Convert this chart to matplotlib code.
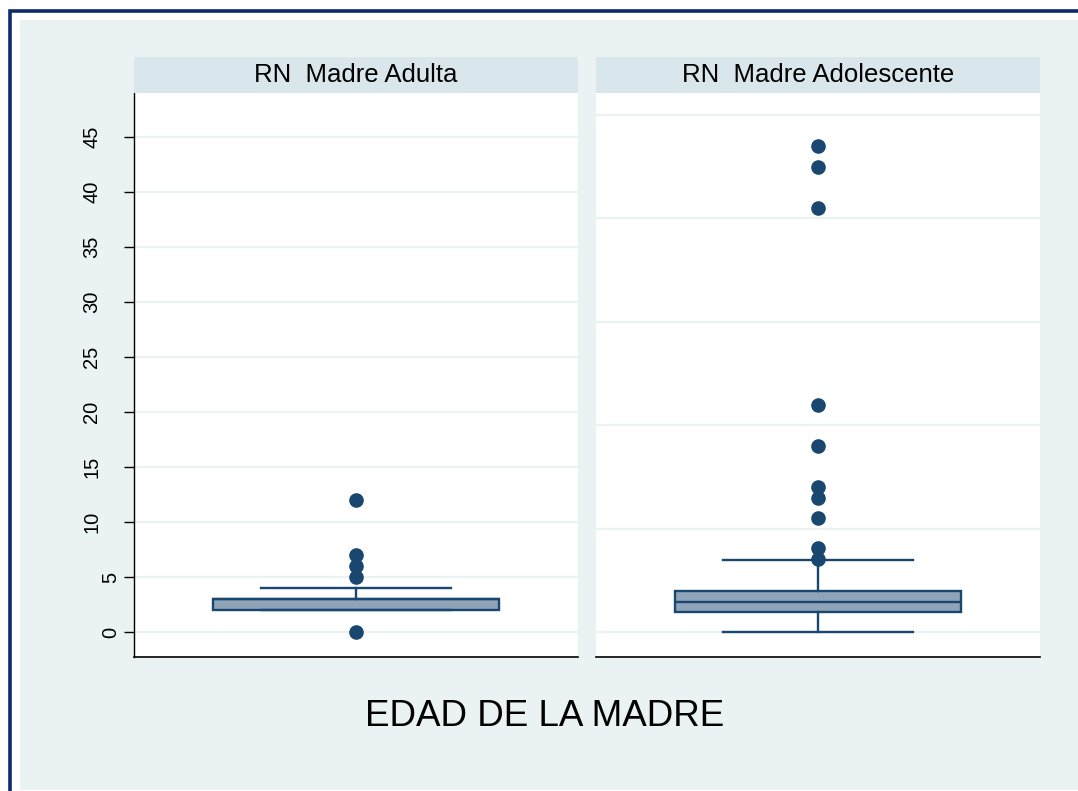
import matplotlib
matplotlib.use("Agg")
import matplotlib.pyplot as plt
from matplotlib.patches import Rectangle
from matplotlib.transforms import blended_transform_factory

plt.rcParams['font.family'] = ['Liberation Sans', 'DejaVu Sans']

# ---- data ----
panel_titles = ["RN  Madre Adulta", "RN  Madre Adolescente"]
xlabel_text = "EDAD DE LA MADRE"

adulta_q1, adulta_med, adulta_q3 = 2.0, 3.0, 3.0
adulta_whislo, adulta_whishi = 2.0, 4.0
adulta_outliers = [0, 5, 6, 7, 12]

adol_q1, adol_med, adol_q3 = 1.95, 2.93, 3.97
adol_whislo, adol_whishi = 0.0, 6.96
adol_outliers = [7.1, 8.1, 11.0, 13.0, 14.05, 18.0, 22.0, 41.0, 45.0, 47.0]

left_ticks = [0, 5, 10, 15, 20, 25, 30, 35, 40, 45]
right_grid = [0, 10, 20, 30, 40, 50]

# ---- styling ----
W, H = 1078, 791
NAVY = "#1a476f"
BOXFILL = "#8fa4b8"
BG = "#eaf2f3"
HEADER = "#d9e6eb"
GRID = "#eaf2f3"

fig = plt.figure(figsize=(W / 100, H / 100), dpi=100)
fig.patch.set_facecolor("white")

def px(x0, y0, x1, y1):
    return [x0 / W, 1 - y1 / H, (x1 - x0) / W, (y1 - y0) / H]

# outer border and background
fig.patches.append(Rectangle((10 / W, -0.2), 1.2, 1.2 - 10.5 / H, transform=fig.transFigure,
                             facecolor="white", edgecolor="#0e2a6b", linewidth=2.6, zorder=-10))
fig.patches.append(Rectangle((20 / W, 1 - 790 / H), 1.0, (790 - 20) / H, transform=fig.transFigure,
                             facecolor=BG, edgecolor="none", zorder=-9))

panels = [
    dict(x0=134, x1=578, stats=dict(q1=adulta_q1, med=adulta_med, q3=adulta_q3,
                                    whislo=adulta_whislo, whishi=adulta_whishi,
                                    fliers=adulta_outliers),
         ylim=(-25 / 11, 539 / 11), grid=left_ticks, labels=True),
    dict(x0=596, x1=1040, stats=dict(q1=adol_q1, med=adol_med, q3=adol_q3,
                                     whislo=adol_whislo, whishi=adol_whishi,
                                     fliers=adol_outliers),
         ylim=(-25 / 10.34, 539 / 10.34), grid=right_grid, labels=False),
]

for p, title in zip(panels, panel_titles):
    ax = fig.add_axes(px(p["x0"], 93, p["x1"], 657))
    ax.set_facecolor("white")
    ax.set_xlim(0, 1)
    ax.set_ylim(*p["ylim"])
    for g in p["grid"]:
        ax.axhline(g, color=GRID, lw=1.6, zorder=0)
    ax.bxp([p["stats"]], positions=[0.5], widths=0.644, capwidths=0.428,
           patch_artist=True, showfliers=True,
           boxprops=dict(facecolor=BOXFILL, edgecolor=NAVY, linewidth=1.7),
           medianprops=dict(color=NAVY, linewidth=1.7),
           whiskerprops=dict(color=NAVY, linewidth=1.7),
           capprops=dict(color=NAVY, linewidth=1.7),
           flierprops=dict(marker="o", markerfacecolor=NAVY, markeredgecolor=NAVY,
                           markersize=9.5, linestyle="none"))
    ax.set_xticks([])
    for s in ["top", "right"]:
        ax.spines[s].set_visible(False)
    ax.spines["bottom"].set_color("black")
    ax.spines["bottom"].set_linewidth(1.2)
    if p["labels"]:
        ax.spines["left"].set_color("black")
        ax.spines["left"].set_linewidth(1.0)
        ax.set_yticks(p["grid"])
        ax.set_yticklabels([])
        ax.tick_params(axis="y", length=7, width=1, color="black")
        trans = blended_transform_factory(fig.transFigure, ax.transData)
        for t in p["grid"]:
            lab = str(t)
            xc = 92 if len(lab) > 1 else 111
            fig.text(xc / W, t, lab, transform=trans, rotation=90, ha="center",
                     va="center", fontsize=14.5, color="black")
    else:
        ax.spines["left"].set_visible(False)
        ax.set_yticks([])
    # header strip
    hx = fig.add_axes(px(p["x0"], 57, p["x1"], 93))
    hx.set_facecolor(HEADER)
    hx.set_xticks([]); hx.set_yticks([])
    for s in hx.spines.values():
        s.set_visible(False)
    hx.text(0.5, 0.5, title, ha="center", va="center", fontsize=18.5, color="black",
            transform=hx.transAxes)

fig.text(545 / W, 1 - 716 / H, xlabel_text, ha="center", va="center", fontsize=26.5,
         color="black")

fig.savefig("out.png", dpi=100, facecolor=fig.get_facecolor())
